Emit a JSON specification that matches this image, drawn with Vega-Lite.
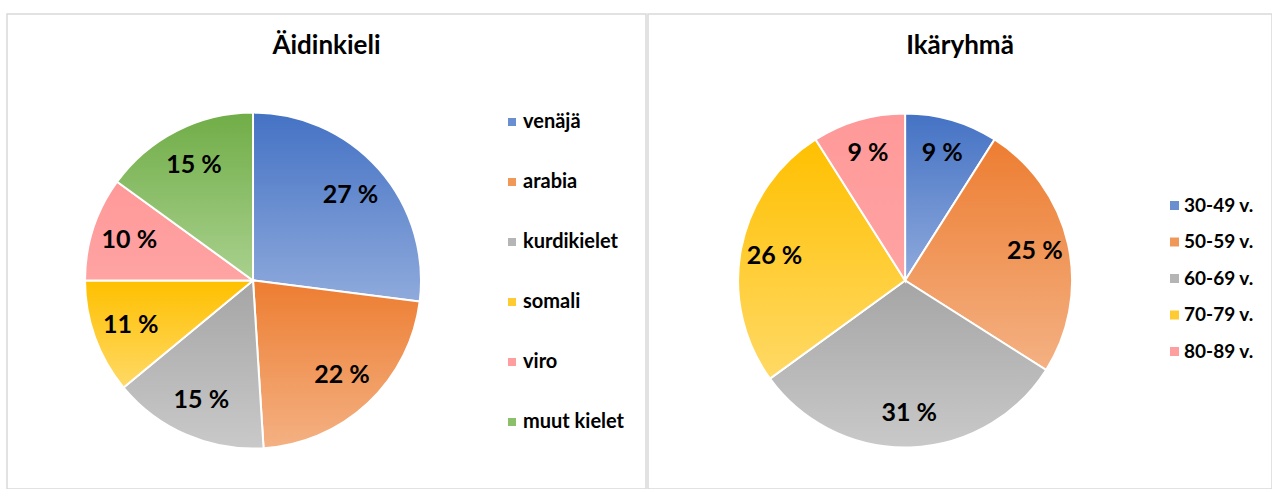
{
  "$schema": "https://vega.github.io/schema/vega-lite/v6.json",
  "padding": {"left": 6, "top": 13, "right": 0, "bottom": 0},
  "spacing": 0,
  "resolve": {"scale": {"color": "independent"}, "legend": {"color": "independent"}},
  "config": {
    "view": {"stroke": "#d9d9d9", "strokeWidth": 1.5},
    "font": "Lato",
    "title": {"fontSize": 26, "fontWeight": "bold", "color": "#000000", "anchor": "middle", "baseline": "middle", "offset": -45, "font": "Lato"},
    "legend": {"orient": "none", "symbolType": "square", "labelFontSize": 20, "labelFontWeight": "bold", "labelColor": "#000000", "labelFont": "Lato", "padding": 0, "symbolStrokeWidth": 0, "title": null}
  },
  "hconcat": [
    {
      "width": 639,
      "height": 475,
      "title": "Äidinkieli",
      "data": {"values": [
        {"i": 1, "kieli": "venäjä", "osuus": 27, "label": "27 %"},
        {"i": 2, "kieli": "arabia", "osuus": 22, "label": "22 %"},
        {"i": 3, "kieli": "kurdikielet", "osuus": 15, "label": "15 %"},
        {"i": 4, "kieli": "somali", "osuus": 11, "label": "11 %"},
        {"i": 5, "kieli": "viro", "osuus": 10, "label": "10 %"},
        {"i": 6, "kieli": "muut kielet", "osuus": 15, "label": "15 %"}
      ]},
      "encoding": {
        "theta": {"field": "osuus", "type": "quantitative", "stack": true},
        "order": {"field": "i", "type": "quantitative"},
        "x": {"datum": 0.385, "type": "quantitative", "scale": {"domain": [0, 1]}, "axis": null},
        "y": {"datum": 0.439, "type": "quantitative", "scale": {"domain": [0, 1]}, "axis": null}
      },
      "layer": [
        {
          "mark": {"type": "arc", "radius": 168, "stroke": "#ffffff", "strokeWidth": 2},
          "encoding": {
            "color": {
              "condition": [
                {"test": "datum.i === 1", "value": {"gradient": "linear", "x1": 0, "y1": 0, "x2": 0, "y2": 1, "stops": [{"offset": 0, "color": "#4472c4"}, {"offset": 1, "color": "#8faadc"}]}},
                {"test": "datum.i === 2", "value": {"gradient": "linear", "x1": 0, "y1": 0, "x2": 0, "y2": 1, "stops": [{"offset": 0, "color": "#ed7d31"}, {"offset": 1, "color": "#f4b183"}]}},
                {"test": "datum.i === 3", "value": {"gradient": "linear", "x1": 0, "y1": 0, "x2": 0, "y2": 1, "stops": [{"offset": 0, "color": "#a5a5a5"}, {"offset": 1, "color": "#c9c9c9"}]}},
                {"test": "datum.i === 4", "value": {"gradient": "linear", "x1": 0, "y1": 0, "x2": 0, "y2": 1, "stops": [{"offset": 0, "color": "#ffc000"}, {"offset": 1, "color": "#ffd966"}]}},
                {"test": "datum.i === 5", "value": {"gradient": "linear", "x1": 0, "y1": 0, "x2": 0, "y2": 1, "stops": [{"offset": 0, "color": "#ff9999"}, {"offset": 1, "color": "#ffa3a3"}]}},
                {"test": "datum.i === 6", "value": {"gradient": "linear", "x1": 0, "y1": 0, "x2": 0, "y2": 1, "stops": [{"offset": 0, "color": "#70ad47"}, {"offset": 1, "color": "#a9d18e"}]}}
              ],
              "field": "kieli", "type": "nominal",
              "scale": {
                "domain": ["venäjä", "arabia", "kurdikielet", "somali", "viro", "muut kielet"],
                "range": ["#6a8fd0", "#f09858", "#b5b5b5", "#ffcb33", "#ff9e9e", "#8cbf6a"]
              },
              "legend": {"legendX": 495, "legendY": 98, "symbolSize": 64, "rowPadding": 40, "labelOffset": 1}
            }
          }
        },
        {
          "mark": {"type": "text", "radius": 130, "fontSize": 25, "fontWeight": "bold", "color": "#000000", "font": "Lato"},
          "encoding": {"text": {"field": "label", "type": "nominal"}}
        }
      ]
    },
    {
      "width": 624,
      "height": 475,
      "title": "Ikäryhmä",
      "data": {"values": [
        {"i": 1, "ika": "30-49 v.", "osuus": 9, "label": "9 %"},
        {"i": 2, "ika": "50-59 v.", "osuus": 25, "label": "25 %"},
        {"i": 3, "ika": "60-69 v.", "osuus": 31, "label": "31 %"},
        {"i": 4, "ika": "70-79 v.", "osuus": 26, "label": "26 %"},
        {"i": 5, "ika": "80-89 v.", "osuus": 9, "label": "9 %"}
      ]},
      "encoding": {
        "theta": {"field": "osuus", "type": "quantitative", "stack": true},
        "order": {"field": "i", "type": "quantitative"},
        "x": {"datum": 0.412, "type": "quantitative", "scale": {"domain": [0, 1]}, "axis": null},
        "y": {"datum": 0.439, "type": "quantitative", "scale": {"domain": [0, 1]}, "axis": null}
      },
      "layer": [
        {
          "mark": {"type": "arc", "radius": 167, "stroke": "#ffffff", "strokeWidth": 2},
          "encoding": {
            "color": {
              "condition": [
                {"test": "datum.i === 1", "value": {"gradient": "linear", "x1": 0, "y1": 0, "x2": 0, "y2": 1, "stops": [{"offset": 0, "color": "#4472c4"}, {"offset": 1, "color": "#8faadc"}]}},
                {"test": "datum.i === 2", "value": {"gradient": "linear", "x1": 0, "y1": 0, "x2": 0, "y2": 1, "stops": [{"offset": 0, "color": "#ed7d31"}, {"offset": 1, "color": "#f4b183"}]}},
                {"test": "datum.i === 3", "value": {"gradient": "linear", "x1": 0, "y1": 0, "x2": 0, "y2": 1, "stops": [{"offset": 0, "color": "#a5a5a5"}, {"offset": 1, "color": "#c9c9c9"}]}},
                {"test": "datum.i === 4", "value": {"gradient": "linear", "x1": 0, "y1": 0, "x2": 0, "y2": 1, "stops": [{"offset": 0, "color": "#ffc000"}, {"offset": 1, "color": "#ffd966"}]}},
                {"test": "datum.i === 5", "value": {"gradient": "linear", "x1": 0, "y1": 0, "x2": 0, "y2": 1, "stops": [{"offset": 0, "color": "#ff9999"}, {"offset": 1, "color": "#ffa3a3"}]}}
              ],
              "field": "ika", "type": "nominal",
              "scale": {
                "domain": ["30-49 v.", "50-59 v.", "60-69 v.", "70-79 v.", "80-89 v."],
                "range": ["#6a8fd0", "#f09858", "#b5b5b5", "#ffcb33", "#ff9e9e"]
              },
              "legend": {"legendX": 517, "legendY": 182, "symbolSize": 81, "rowPadding": 16.5, "labelOffset": 0, "labelFontSize": 19}
            }
          }
        },
        {
          "mark": {"type": "text", "radius": 133, "fontSize": 25, "fontWeight": "bold", "color": "#000000", "font": "Lato"},
          "encoding": {"text": {"field": "label", "type": "nominal"}}
        }
      ]
    }
  ]
}
